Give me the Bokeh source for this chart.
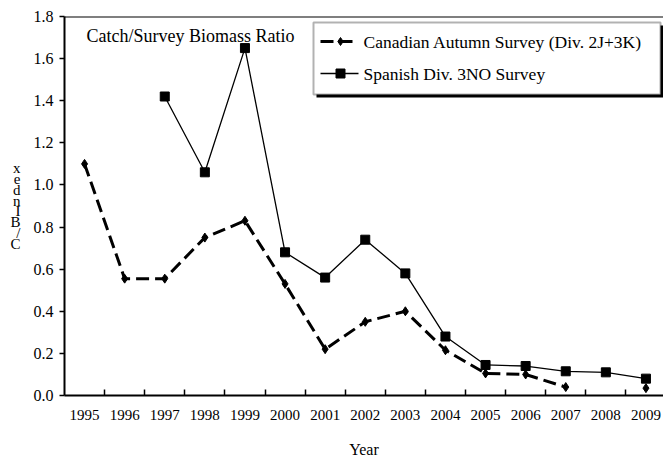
import math
from bokeh.plotting import figure
from bokeh.models import (Range1d, FixedTicker, NumeralTickFormatter, BoxAnnotation,
                          Label, Span)
from bokeh.embed import file_html
from bokeh.resources import INLINE

# ---- data -------------------------------------------------------------
years = [1995, 1996, 1997, 1998, 1999, 2000, 2001, 2002, 2003, 2004,
         2005, 2006, 2007, 2008, 2009]
canadian = [1.10, 0.555, 0.555, 0.75, 0.83, 0.53, 0.22, 0.35, 0.40, 0.215,
            0.105, 0.10, 0.04, math.nan, 0.035]
spanish = [math.nan, math.nan, 1.42, 1.06, 1.65, 0.68, 0.56, 0.74, 0.58, 0.28,
           0.145, 0.14, 0.115, 0.11, 0.08]
series_names = ["Canadian Autumn Survey (Div. 2J+3K)", "Spanish Div. 3NO Survey"]
title_text = "Catch/Survey Biomass Ratio"
y_label = "C/BIndex"
x_label = "Year"

FONT = "Liberation Serif"

# ---- figure geometry ---------------------------------------------------
W, H = 663, 464
LEFT, TOP, BOTTOM = 64, 16, 69
X0 = 1994.5
PX_PER_YEAR = 40.1
frame_w = W - LEFT
X1 = X0 + frame_w / PX_PER_YEAR
Y0, Y1 = 0.0, 1.8
frame_h = H - TOP - BOTTOM


def sx(px):
    """canvas x pixel -> data x"""
    return X0 + (px - LEFT) / PX_PER_YEAR


def sy(py):
    """canvas y pixel -> data y"""
    return Y0 + (H - BOTTOM - py) / frame_h * (Y1 - Y0)


p = figure(width=W, height=H, output_backend="svg", toolbar_location=None,
           x_range=Range1d(X0, X1), y_range=Range1d(Y0, Y1),
           min_border_left=LEFT, min_border_right=0,
           min_border_top=TOP, min_border_bottom=BOTTOM)
p.outline_line_color = None
p.grid.visible = False
p.background_fill_color = "white"
p.border_fill_color = "white"

# top frame border (right side runs off the canvas)
p.add_layout(Span(location=Y1, dimension="width", line_color="black", line_width=2))

# ---- axes -------------------------------------------------------------
xa = p.xaxis[0]
xa.ticker = FixedTicker(ticks=years, minor_ticks=[y + 0.5 for y in years[:-1]])
xa.major_tick_line_color = None
xa.minor_tick_in = 6
xa.minor_tick_out = 0
xa.minor_tick_line_width = 1.5
xa.minor_tick_line_color = "black"
xa.axis_line_width = 2
xa.axis_line_color = "black"
xa.major_label_text_font = FONT
xa.major_label_text_font_size = "15px"
xa.major_label_text_color = "black"
xa.major_label_standoff = 8
xa.axis_label = x_label
xa.axis_label_text_font = FONT
xa.axis_label_text_font_size = "16px"
xa.axis_label_text_font_style = "normal"
xa.axis_label_text_color = "black"
xa.axis_label_standoff = 18

ya = p.yaxis[0]
ya.ticker = FixedTicker(ticks=[round(0.2 * i, 1) for i in range(10)], minor_ticks=[])
ya.formatter = NumeralTickFormatter(format="0.0")
ya.major_tick_in = 0
ya.major_tick_out = 5
ya.major_tick_line_width = 1.5
ya.axis_line_width = 2
ya.axis_line_color = "black"
ya.major_label_text_font = FONT
ya.major_label_text_font_size = "16px"
ya.major_label_text_color = "black"
ya.major_label_standoff = 6
ya.axis_label = "\n".join(reversed(list(y_label)))
ya.axis_label_orientation = "horizontal"
ya.axis_label_text_font = FONT
ya.axis_label_text_font_size = "15px"
ya.axis_label_text_font_style = "normal"
ya.axis_label_text_color = "black"
ya.axis_label_text_line_height = 0.68
ya.axis_label_standoff = 10

# ---- series -----------------------------------------------------------
p.line(years, spanish, line_color="black", line_width=1.3)
p.scatter(years, spanish, marker="square", size=9, color="black")

p.line(years, canadian, line_color="black", line_width=3, line_dash="13 6")
p.scatter(years, canadian, marker="diamond", size=9, color="black")

# ---- title inside the frame -------------------------------------------
p.add_layout(Label(x=sx(86), y=sy(35), text=title_text, text_font=FONT,
                   text_font_size="18px", text_color="black",
                   text_baseline="alphabetic"))

# ---- legend box with drop shadow ---------------------------------------
p.add_layout(BoxAnnotation(left=sx(316), right=sx(664), top=sy(25), bottom=sy(97),
                           fill_color="black", fill_alpha=1, line_color=None))
p.add_layout(BoxAnnotation(left=sx(313), right=sx(660), top=sy(22), bottom=sy(94),
                           fill_color="white", fill_alpha=1, line_color="black",
                           line_width=2))

rows = [41, 73]
r = p.line([sx(320), sx(358)], [sy(rows[0])] * 2, line_color="black", line_width=3,
           line_dash="13 6")
r.level = "overlay"
r = p.scatter([sx(340)], [sy(rows[0])], marker="diamond", size=8, color="black")
r.level = "overlay"
r = p.line([sx(320), sx(358)], [sy(rows[1])] * 2, line_color="black", line_width=1.3)
r.level = "overlay"
r = p.scatter([sx(340)], [sy(rows[1])], marker="square", size=9, color="black")
r.level = "overlay"

for name, row in zip(series_names, rows):
    p.add_layout(Label(x=sx(363), y=sy(row), text=name, text_font=FONT,
                       text_font_size="17.5px", text_color="black",
                       text_baseline="middle"))

open("out.html", "w").write(file_html(p, INLINE))
